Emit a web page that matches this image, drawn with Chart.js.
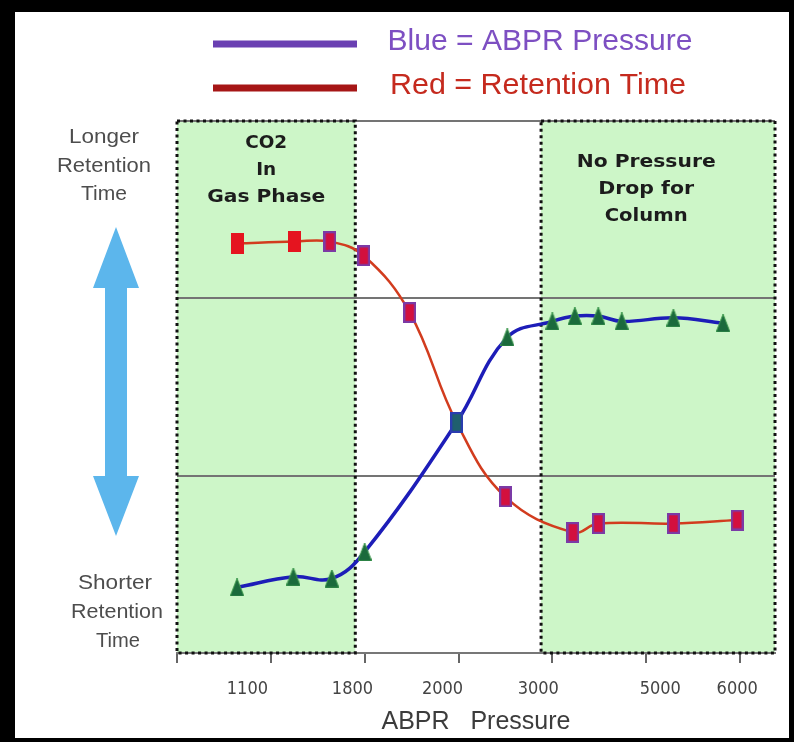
<!DOCTYPE html>
<html>
<head>
<meta charset="utf-8">
<script src="https://cdn.jsdelivr.net/npm/chart.js@4/dist/chart.umd.min.js"></script>
<style>
  html, body { margin: 0; padding: 0; background: #fff; }
  #wrap { width: 794px; height: 742px; }
</style>
</head>
<body>
<div id="wrap"><canvas id="myChart" width="794" height="742"></canvas></div>
<script>
// x is read in "tick steps" along the axis (ticks are evenly spaced, labels are not)
const tickPos = [0, 1, 2, 3, 4, 5, 6];
const xLabels = ['1100', '1800', '2000', '3000', '5000', '6000'];
const xLabelPos = [0.75, 1.87, 2.83, 3.85, 5.15, 5.97];

// red = retention time
const redX = [0.64, 1.25, 1.63, 1.99, 2.48, 2.98, 3.50, 4.22, 4.49, 5.29, 5.97];
const redY = [2.31, 2.32, 2.32, 2.24, 1.92, 1.30, 0.88, 0.68, 0.73, 0.73, 0.75];

// blue = ABPR pressure
const blueX = [0.64, 1.24, 1.65, 2.00, 2.98, 3.52, 4.00, 4.24, 4.49, 4.74, 5.29, 5.82];
const blueY = [0.37, 0.43, 0.42, 0.57, 1.30, 1.78, 1.87, 1.90, 1.90, 1.87, 1.89, 1.86];

// shaded zones
const zoneGas = [0, 1.90];
const zoneNoDrop = [3.88, 6.373];
const xMax = 6.373;

function rectMarker(fill, stroke) {
  const c = document.createElement('canvas');
  c.width = 13; c.height = 21;
  const g = c.getContext('2d');
  g.fillStyle = fill;
  g.fillRect(0, 0, 13, 21);
  if (stroke) {
    g.strokeStyle = stroke;
    g.lineWidth = 2.5;
    g.strokeRect(1, 1, 11, 19);
  }
  return c;
}
function triMarker() {
  const c = document.createElement('canvas');
  c.width = 14; c.height = 18;
  const g = c.getContext('2d');
  g.beginPath();
  g.moveTo(7, 0); g.lineTo(14, 18); g.lineTo(0, 18); g.closePath();
  g.fillStyle = '#1b6a3c';
  g.fill();
  g.strokeStyle = '#3f9a4e';
  g.lineWidth = 1;
  g.stroke();
  return c;
}
const redPlain = rectMarker('#e5141f', null);
const redPurple = rectMarker('#d3103e', '#7b3aa6');
const crossMark = rectMarker('#1f5f6e', '#2a3cb0');
const redStyles = redY.map((v, i) => i < 2 ? redPlain : (i === 5 ? crossMark : redPurple));
const tri = triMarker();

function fitText(ctx, text, cx, cy, font, width, color) {
  ctx.save();
  ctx.font = font;
  ctx.fillStyle = color;
  ctx.textAlign = 'center';
  ctx.textBaseline = 'middle';
  const w = ctx.measureText(text).width;
  ctx.translate(cx, cy);
  ctx.scale(width / w, 1);
  ctx.fillText(text, 0, 0);
  ctx.restore();
}

const decor = {
  id: 'decor',
  beforeDraw(chart) {
    const { ctx, chartArea: a, scales: { x } } = chart;
    ctx.save();
    ctx.fillStyle = '#fff';
    ctx.fillRect(0, 0, chart.width, chart.height);
    ctx.fillStyle = '#cdf6c8';
    [zoneGas, zoneNoDrop].forEach(z => {
      const x0 = x.getPixelForValue(z[0]), x1 = x.getPixelForValue(z[1]);
      ctx.fillRect(x0, a.top, x1 - x0, a.bottom - a.top);
    });
    ctx.restore();
  },
  beforeDatasetsDraw(chart) {
    const { ctx, chartArea: a, scales: { x } } = chart;
    ctx.save();
    ctx.strokeStyle = '#111';
    ctx.lineWidth = 3;
    ctx.setLineDash([3, 3.5]);
    [zoneGas, zoneNoDrop].forEach(z => {
      const x0 = x.getPixelForValue(z[0]), x1 = x.getPixelForValue(z[1]);
      ctx.strokeRect(x0, a.top, x1 - x0, a.bottom - a.top);
    });
    ctx.restore();
  },
  afterDraw(chart) {
    const { ctx, scales: { x } } = chart;
    ctx.save();
    // legend
    ctx.lineCap = 'butt';
    ctx.lineWidth = 7;
    ctx.strokeStyle = '#6a40b2';
    ctx.beginPath(); ctx.moveTo(213, 44); ctx.lineTo(357, 44); ctx.stroke();
    ctx.strokeStyle = '#a61616';
    ctx.beginPath(); ctx.moveTo(213, 88); ctx.lineTo(357, 88); ctx.stroke();
    fitText(ctx, 'Blue = ABPR Pressure', 540, 42, '30px "Liberation Sans", Arial', 305, '#7d4fc2');
    fitText(ctx, 'Red = Retention Time', 538, 86, '30px "Liberation Sans", Arial', 296, '#c52a1e');

    // side labels
    const f = '20px "Liberation Sans", Arial';
    fitText(ctx, 'Longer', 104, 137, f, 70, '#4d4d4d');
    fitText(ctx, 'Retention', 104, 166, f, 94, '#4d4d4d');
    fitText(ctx, 'Time', 104, 194, f, 46, '#4d4d4d');
    fitText(ctx, 'Shorter', 115, 583, f, 74, '#4d4d4d');
    fitText(ctx, 'Retention', 117, 612, f, 92, '#4d4d4d');
    fitText(ctx, 'Time', 118, 641, f, 44, '#4d4d4d');

    // double arrow
    ctx.fillStyle = '#5cb6ec';
    ctx.beginPath();
    ctx.moveTo(116, 227);
    ctx.lineTo(139, 288);
    ctx.lineTo(127, 288);
    ctx.lineTo(127, 476);
    ctx.lineTo(139, 476);
    ctx.lineTo(116, 536);
    ctx.lineTo(93, 476);
    ctx.lineTo(105, 476);
    ctx.lineTo(105, 288);
    ctx.lineTo(93, 288);
    ctx.closePath();
    ctx.fill();

    // zone captions
    const b = 'bold 18px "DejaVu Sans", Verdana';
    const cg = x.getPixelForValue((zoneGas[0] + zoneGas[1]) / 2);
    fitText(ctx, 'CO2', cg, 143, b, 42, '#1c1c1c');
    fitText(ctx, 'In', cg, 170, b, 20, '#1c1c1c');
    fitText(ctx, 'Gas Phase', cg, 197, b, 118, '#1c1c1c');
    const cn = x.getPixelForValue(5.0);
    fitText(ctx, 'No Pressure', cn, 162, b, 139, '#1c1c1c');
    fitText(ctx, 'Drop for', cn, 189, b, 96, '#1c1c1c');
    fitText(ctx, 'Column', cn, 216, b, 83, '#1c1c1c');

    // black frame
    ctx.fillStyle = '#000';
    ctx.fillRect(0, 0, chart.width, 12);
    ctx.fillRect(0, 0, 15, chart.height);
    ctx.fillRect(0, chart.height - 4, chart.width, 4);
    ctx.fillRect(chart.width - 5, 0, 5, chart.height);
    ctx.restore();
  }
};

const ctx = document.getElementById('myChart').getContext('2d');
const myChart = new Chart(ctx, {
  type: 'line',
  data: {
    datasets: [{
      label: 'Retention Time',
      data: redX.map((v, i) => ({ x: v, y: redY[i] })),
      borderColor: '#d23c1e',
      borderWidth: 2.5,
      tension: 0.4,
      pointStyle: redStyles,
      pointRadius: 8,
      order: 0
    }, {
      label: 'ABPR Pressure',
      data: blueX.map((v, i) => ({ x: v, y: blueY[i] })),
      borderColor: '#1d1db8',
      borderWidth: 3.5,
      tension: 0.4,
      pointStyle: tri,
      pointRadius: blueY.map((v, i) => i === 4 ? 0 : 8),
      order: 1
    }]
  },
  options: {
    responsive: false,
    animation: false,
    events: [],
    layout: { padding: { left: 177, right: 19, top: 121, bottom: 0 } },
    plugins: { legend: { display: false }, tooltip: { enabled: false } },
    scales: {
      x: {
        type: 'linear',
        position: 'bottom',
        min: 0,
        max: xMax,
        afterBuildTicks: s => { s.ticks = tickPos.map(v => ({ value: v })); },
        afterFit: s => { s.height = 10; },
        ticks: { display: false },
        grid: { drawOnChartArea: false, drawTicks: true, tickLength: 10, color: '#666', lineWidth: 2 },
        border: { color: '#777', width: 2 }
      },
      x2: {
        type: 'linear',
        position: 'bottom',
        weight: 1,
        min: 0,
        max: xMax,
        afterBuildTicks: s => { s.ticks = xLabelPos.map(v => ({ value: v })); },
        afterFit: s => { s.height = 79; },
        ticks: {
          autoSkip: false,
          maxRotation: 0,
          padding: 16,
          color: '#444',
          font: { family: '"DejaVu Sans Condensed", "DejaVu Sans"', size: 18 },
          callback: (v, i) => xLabels[i]
        },
        grid: { display: false, drawTicks: false },
        border: { display: false },
        title: {
          display: true,
          text: 'ABPR   Pressure',
          color: '#3c3c3c',
          font: { family: '"Liberation Sans", Arial', size: 25 },
          padding: { top: 0, bottom: 5 }
        }
      },
      y: {
        min: 0,
        max: 3,
        afterBuildTicks: s => { s.ticks = [1, 2, 3].map(v => ({ value: v })); },
        afterFit: s => { s.width = 0; },
        ticks: { display: false },
        grid: { color: '#747474', lineWidth: 2, drawTicks: false },
        border: { display: false }
      }
    }
  },
  plugins: [decor]
});
</script>
</body>
</html>
